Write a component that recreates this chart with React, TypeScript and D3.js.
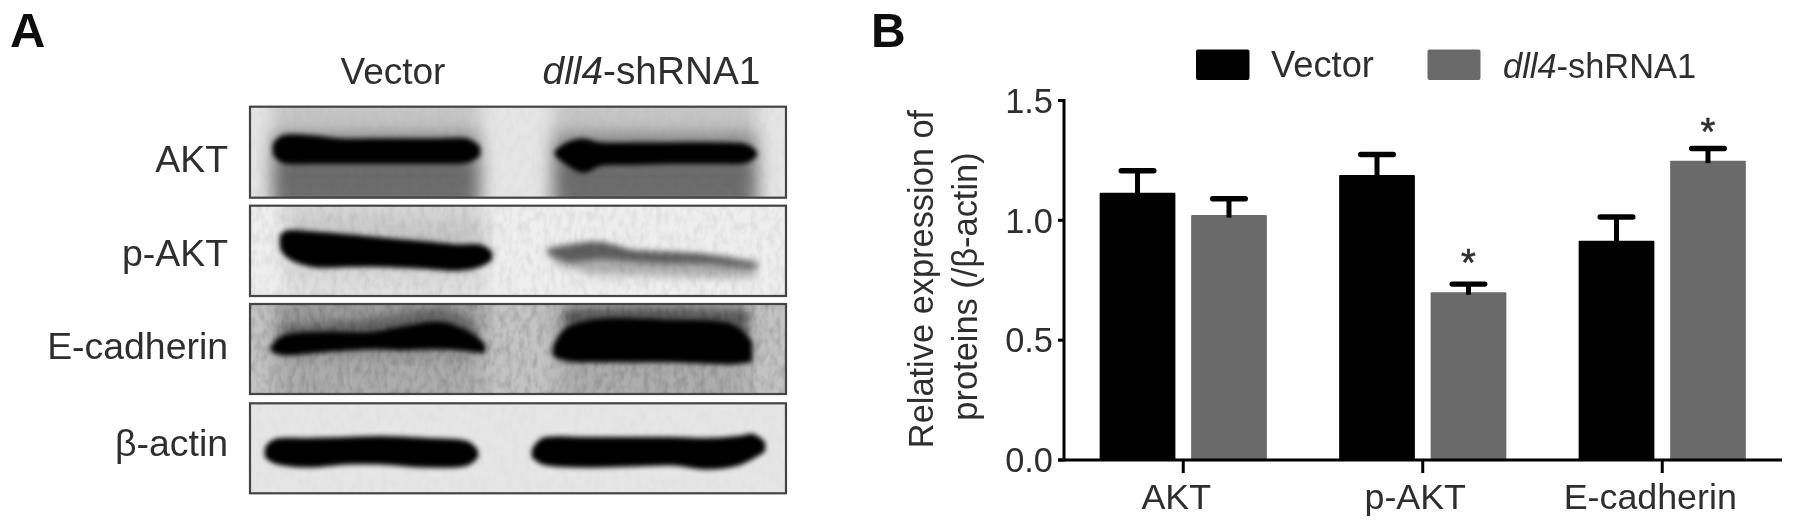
import React from "react";
import * as d3 from "d3";

// ---------- Panel B data ----------
const categories = ["AKT", "p-AKT", "E-cadherin"];
const seriesNames = ["Vector", "dll4-shRNA1"];
const vectorValues = [1.115, 1.189, 0.915];
const vectorErrors = [0.092, 0.086, 0.099];
const shrnaValues = [1.022, 0.7, 1.249];
const shrnaErrors = [0.068, 0.034, 0.051];
const shrnaStars = [false, true, true];
const starLift = [0, 6, 1];
const yTicks = [0, 0.5, 1, 1.5];
const xLabelShift = [-7, -7.5, -12];

// ---------- Panel A data: band outlines, [lane position, top edge, bottom edge] in blot units ----------
type P = [number, number, number];
const blotNames = ["AKT", "p-AKT", "E-cadherin", "β-actin"];
const aktLane1: P[] = [[25, 38, 47], [33, 31, 54], [63, 31, 55], [90, 34, 55], [140, 34, 55], [190, 34, 55], [217, 34, 54], [228, 41, 48]];
const aktLane2: P[] = [[307, 45, 48], [317, 38, 56], [333, 34, 64], [350, 38, 57], [383, 38, 56], [423, 38, 55], [467, 38, 55], [497, 40, 54], [505, 46, 48]];
const pAktLane1: P[] = [[32, 31, 41], [37, 27, 49], [63, 28, 59], [100, 31, 59], [130, 34, 59], [177, 38, 61], [207, 41, 63], [230, 41, 59], [240, 47, 53]];
const pAktLane2: P[] = [[297, 43, 48], [317, 39, 56], [350, 36, 54], [383, 44, 56], [417, 46, 58], [450, 48, 58], [483, 53, 61], [507, 58, 63]];
const pAktLane2Low: P[] = [[305, 48, 58], [340, 48, 68], [400, 50, 70], [460, 52, 72], [505, 56, 72]];
const eCadLane1: P[] = [[23, 43, 46], [33, 34, 49], [73, 30, 46], [123, 30, 43], [150, 25, 44], [190, 20, 43], [217, 29, 45], [233, 41, 47]];
const eCadLane1Haze: P[] = [[33, 22, 42], [110, 16, 40], [195, 5, 35], [226, 22, 42]];
const eCadLane2: P[] = [[305, 43, 51], [317, 26, 55], [350, 17, 56], [417, 18, 56], [483, 23, 58], [500, 39, 56]];
const eCadLane2Haze: P[] = [[316, 6, 34], [400, 4, 34], [497, 7, 36]];
const actinLane1: P[] = [[17, 45, 53], [25, 38, 58], [57, 37, 62], [97, 36, 59], [130, 35, 59], [177, 37, 62], [217, 40, 60], [226, 48, 53]];
const actinLane2: P[] = [[284, 47, 53], [293, 37, 59], [333, 36, 62], [383, 36, 61], [423, 36, 60], [457, 37, 64], [488, 35, 60], [503, 33, 53], [513, 40, 47]];

const W = 1795;
const H = 529;
const dark = "#2e2e2e";
const gray = "#6b6b6b";
const font = "'Liberation Sans', Arial, sans-serif";

const yScale = d3.scaleLinear().domain([0, 1.5]).range([460, 100.5]);
const xGroup = d3.scaleBand<string>().domain(categories).range([1063.5, 1782]);
const xInner = d3.scaleBand<number>().domain([0, 1]).range([-83.6, 83.6]).paddingInner(0.172);

const blotTops = [106.7, 205.7, 304, 403.3];
const blotBottoms = [197.7, 296, 394, 493.3];
const blotLabelY = [172, 266, 359, 456];
const xBlot = d3.scaleLinear().domain([0, 536]).range([250, 786]);

const blotY = (i: number) => d3.scaleLinear().domain([0, 90]).range([blotTops[i], blotTops[i] + 90]);

function Band({ pts, i, fill, filter = "url(#blurBand)" }: { pts: P[]; i: number; fill: string; filter?: string }) {
  const y = blotY(i);
  const area = d3
    .area<P>()
    .x((d) => xBlot(d[0]))
    .y0((d) => y(d[1]))
    .y1((d) => y(d[2]))
    .curve(d3.curveCatmullRom.alpha(0.5));
  const solid = fill === "#000";
  return (
    <path
      d={area(pts) ?? ""}
      fill={fill}
      stroke={solid ? fill : "none"}
      strokeWidth={solid ? 4.5 : 0}
      strokeLinejoin="round"
      filter={filter}
    />
  );
}

function Smear({ i, from, to, grad }: { i: number; from: number; to: number; grad: string }) {
  const y = blotY(i);
  return (
    <rect
      x={xBlot(from)}
      width={xBlot(to) - xBlot(from)}
      y={y(-30)}
      height={y(125) - y(-30)}
      fill={`url(#${grad})`}
      filter="url(#blurSmear)"
    />
  );
}

const blotBg = ["#e6e6e6", "#efefef", "#c4c4c4", "#e6e6e6"];
const noiseOpacity = [0.05, 0.15, 0.32, 0.04];

function blotContent(i: number) {
  if (i === 0)
    return (
      <>
        <Smear i={0} from={22} to={230} grad="gAkt" />
        <Smear i={0} from={303} to={507} grad="gAkt" />
        <Band pts={aktLane1} i={0} fill="#000" />
        <Band pts={aktLane2} i={0} fill="#000" />
      </>
    );
  if (i === 1)
    return (
      <>
        <Smear i={1} from={34} to={235} grad="gPakt" />
        <Band pts={pAktLane1} i={1} fill="#000" />
        <Band pts={pAktLane2Low} i={1} fill="#b0b0b0" filter="url(#blurWide)" />
        <Band pts={pAktLane2} i={1} fill="#5e5e5e" filter="url(#blurMid)" />
      </>
    );
  if (i === 2)
    return (
      <>
        <Smear i={2} from={25} to={232} grad="gEcad" />
        <Smear i={2} from={308} to={500} grad="gEcad" />
        <Band pts={eCadLane1Haze} i={2} fill="#666" filter="url(#blurWide)" />
        <Band pts={eCadLane2Haze} i={2} fill="#5a5a5a" filter="url(#blurWide)" />
        <Band pts={eCadLane1} i={2} fill="#000" />
        <Band pts={eCadLane2} i={2} fill="#000" />
      </>
    );
  return (
    <>
      <Band pts={actinLane1} i={3} fill="#000" />
      <Band pts={actinLane2} i={3} fill="#000" />
    </>
  );
}

export default function App() {
  return (
    <svg
      width={W}
      height={H}
      viewBox={`0 0 ${W} ${H}`}
      style={{ position: "absolute", left: 0, top: 0, background: "#fff", display: "block" }}
      fontFamily={font}
    >
      <defs>
        <filter id="soft" x="-2%" y="-2%" width="104%" height="104%">
          <feGaussianBlur stdDeviation="0.6" />
        </filter>
        <filter id="blurBand" x="-10%" y="-60%" width="120%" height="220%">
          <feGaussianBlur stdDeviation="2.6" />
        </filter>
        <filter id="blurMid" x="-10%" y="-80%" width="120%" height="260%">
          <feGaussianBlur stdDeviation="3" />
        </filter>
        <filter id="blurWide" x="-15%" y="-100%" width="130%" height="300%">
          <feGaussianBlur stdDeviation="4.5" />
        </filter>
        <filter id="blurSmear" x="-25%" y="-25%" width="150%" height="150%">
          <feGaussianBlur stdDeviation="9 5" />
        </filter>
        <filter id="noise" x="0" y="0" width="100%" height="100%">
          <feTurbulence type="fractalNoise" baseFrequency="0.16 0.09" numOctaves="2" seed="4" />
          <feColorMatrix values="0 0 0 0 0.25 0 0 0 0 0.25 0 0 0 0 0.25 2.2 0 0 0 -0.85" />
        </filter>
        <linearGradient id="gAkt" x1="0" y1="0" x2="0" y2="1">
          <stop offset="0" stopColor="#cccccc" />
          <stop offset="0.3" stopColor="#c4c4c4" />
          <stop offset="0.42" stopColor="#8a8a8a" />
          <stop offset="0.6" stopColor="#6a6a6a" />
          <stop offset="1" stopColor="#737373" />
        </linearGradient>
        <linearGradient id="gPakt" x1="0" y1="0" x2="0" y2="1">
          <stop offset="0" stopColor="#ececec" />
          <stop offset="0.4" stopColor="#c4c4c4" />
          <stop offset="0.62" stopColor="#d8d8d8" />
          <stop offset="1" stopColor="#f2f2f2" />
        </linearGradient>
        <linearGradient id="gEcad" x1="0" y1="0" x2="0" y2="1">
          <stop offset="0" stopColor="#a8a8a8" />
          <stop offset="0.45" stopColor="#8c8c8c" />
          <stop offset="0.6" stopColor="#acacac" />
          <stop offset="1" stopColor="#aeaeae" />
        </linearGradient>
        {blotTops.map((t, i) => (
          <clipPath id={`clip${i}`} key={i}>
            <rect x={xBlot(0)} y={t} width={xBlot(536) - xBlot(0)} height={blotBottoms[i] - t} />
          </clipPath>
        ))}
      </defs>

      {/* Panel A blots */}
      {blotNames.map((name, i) => (
        <g key={name} style={{ isolation: "isolate" }}>
          <g clipPath={`url(#clip${i})`} style={{ isolation: "isolate" }}>
            <rect x={250} y={blotTops[i]} width={536} height={blotBottoms[i] - blotTops[i]} fill={blotBg[i]} />
            {blotContent(i)}
            <rect
              x={250}
              y={blotTops[i]}
              width={536}
              height={blotBottoms[i] - blotTops[i]}
              filter="url(#noise)"
              opacity={noiseOpacity[i]}
              style={{ mixBlendMode: "multiply" }}
            />
          </g>
          <rect
            x={xBlot(0)}
            y={blotTops[i]}
            width={xBlot(536) - xBlot(0)}
            height={blotBottoms[i] - blotTops[i]}
            fill="none"
            stroke="#444"
            strokeWidth={2.2}
          />
        </g>
      ))}

      <g filter="url(#soft)">
        {/* Panel A text */}
        <text x={10} y={47} fontSize={49} fontWeight="bold" fill="#111">A</text>
        <text x={393} y={84} fontSize={37} textAnchor="middle" fill={dark}>Vector</text>
        <text x={651.5} y={84} fontSize={38.8} textAnchor="middle" fill={dark}>
          <tspan fontStyle="italic">dll4</tspan>-shRNA1
        </text>
        {blotNames.map((name, i) => (
          <text key={name} x={228} y={blotLabelY[i]} fontSize={37.4} textAnchor="end" fill={dark}>
            {name}
          </text>
        ))}

        {/* Panel B */}
        <text x={871} y={47} fontSize={48} fontWeight="bold" fill="#111">B</text>

        {/* legend */}
        <rect x={1196} y={49.5} width={53.5} height={30.5} rx={2} fill="#000" />
        <text x={1271} y={77} fontSize={36.3} fill={dark}>{seriesNames[0]}</text>
        <rect x={1427.5} y={49.5} width={53} height={30.5} rx={2} fill={gray} />
        <text x={1503} y={78} fontSize={34.4} fill={dark}>
          <tspan fontStyle="italic">dll4</tspan>-shRNA1
        </text>

        {/* y title */}
        <text transform="translate(932.5,279) rotate(-90)" fontSize={34.4} textAnchor="middle" fill={dark}>
          Relative expression of
        </text>
        <text transform="translate(976.5,286.5) rotate(-90)" fontSize={34.4} textAnchor="middle" fill={dark}>
          proteins (/β-actin)
        </text>

        {/* bars and error bars */}
        {categories.map((c, ci) =>
          [
            { v: vectorValues[ci], e: vectorErrors[ci], fill: "#000", star: false, k: 0 },
            { v: shrnaValues[ci], e: shrnaErrors[ci], fill: gray, star: shrnaStars[ci], k: 1 },
          ].map((s) => {
            const cx = (xGroup(c) ?? 0) + xGroup.bandwidth() / 2;
            const x = cx + (xInner(s.k) ?? 0);
            const bw = xInner.bandwidth();
            const mid = x + bw / 2;
            return (
              <g key={`${c}-${s.k}`}>
                <rect x={x} y={yScale(s.v)} width={bw} height={yScale(0) - yScale(s.v)} rx={1} fill={s.fill} />
                <rect x={mid - 2.5} y={yScale(s.v + s.e)} width={5} height={yScale(s.v) - yScale(s.v + s.e) + 2.5} fill="#000" />
                <rect x={mid - 19} y={yScale(s.v + s.e) - 2.7} width={38} height={5.4} rx={2.7} fill="#000" />
                {s.star && (
                  <text
                    x={mid}
                    y={yScale(s.v + s.e) - 2 - starLift[ci]}
                    fontSize={38}
                    textAnchor="middle"
                    fill={dark}
                    stroke={dark}
                    strokeWidth={0.6}
                  >
                    *
                  </text>
                )}
              </g>
            );
          })
        )}

        {/* axes */}
        <line x1={1064} x2={1064} y1={99} y2={461.5} stroke="#000" strokeWidth={3} />
        {yTicks.map((t) => (
          <g key={t}>
            <line x1={1058} x2={1064} y1={yScale(t)} y2={yScale(t)} stroke="#000" strokeWidth={3} />
            <text x={1053} y={yScale(t) + 12.3} fontSize={34.4} textAnchor="end" fill={dark}>
              {d3.format(".1f")(t)}
            </text>
          </g>
        ))}
        <line x1={1058} x2={1782} y1={460} y2={460} stroke="#000" strokeWidth={3} />
        {categories.map((c, i) => {
          const cx = (xGroup(c) ?? 0) + xGroup.bandwidth() / 2;
          return (
            <g key={c}>
              <line x1={cx} x2={cx} y1={460} y2={473} stroke="#000" strokeWidth={3} />
              <text x={cx + xLabelShift[i]} y={509} fontSize={35.8} textAnchor="middle" fill={dark}>{c}</text>
            </g>
          );
        })}
      </g>
    </svg>
  );
}
